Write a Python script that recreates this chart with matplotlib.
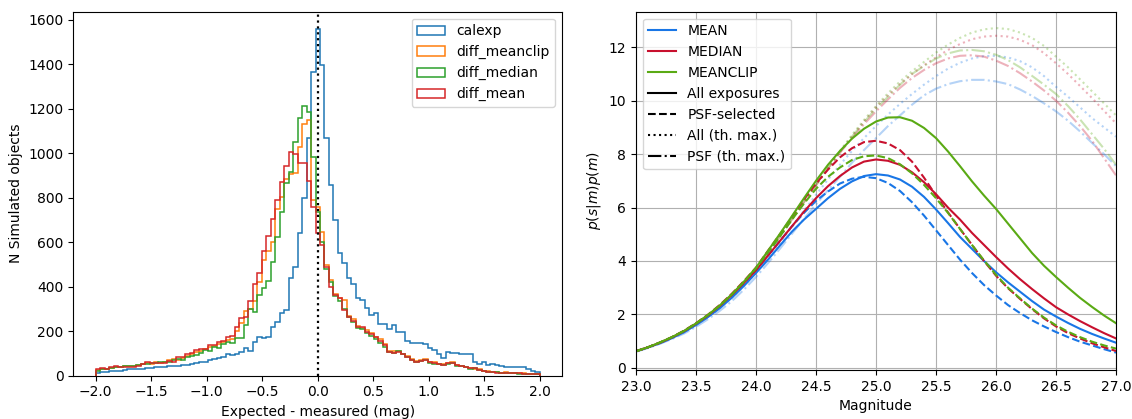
"""Offset histograms and detection-weighted magnitude curves."""

import numpy as np
import matplotlib
matplotlib.use("Agg")
import matplotlib.pyplot as plt
from matplotlib.lines import Line2D

# ---- left panel: histogram of expected - measured (99 bins, -2..2) ----
EDGES = np.linspace(-2.0, 2.0, 100)

calexp = [
    13, 15, 18, 20, 22, 22, 25, 28, 30, 31,
    31, 33, 35, 37, 38, 40, 43, 45, 45, 47,
    47, 52, 55, 60, 62, 70, 76, 80, 85, 95,
    92, 95, 104, 122, 110, 152, 175, 170, 175, 220,
    242, 280, 295, 440, 490, 640, 800, 1070, 1367, 1559,
    1397, 1067, 857, 700, 550, 505, 437, 412, 347, 340,
    302, 272, 283, 232, 232, 208, 228, 198, 198, 157,
    148, 148, 148, 140, 122, 115, 95, 77, 107, 100,
    102, 97, 97, 97, 62, 52, 62, 47, 52, 47,
    45, 40, 40, 40, 38, 38, 30, 20, 15,
]
diff_meanclip = [
    25, 30, 30, 35, 40, 40, 42, 45, 43, 48,
    50, 58, 50, 62, 57, 60, 72, 75, 70, 80,
    90, 95, 105, 112, 120, 128, 132, 140, 150, 158,
    165, 200, 235, 290, 300, 335, 420, 520, 560, 600,
    750, 805, 885, 905, 910, 1030, 1130, 1150, 790, 760,
    647, 497, 430, 365, 350, 340, 270, 255, 225, 215,
    205, 190, 175, 165, 140, 112, 110, 110, 98, 88,
    75, 65, 70, 75, 60, 60, 50, 50, 58, 60,
    48, 45, 40, 35, 30, 28, 22, 20, 18, 15,
    12, 14, 12, 10, 12, 10, 8, 6, 5,
]
diff_median = [
    22, 28, 30, 32, 38, 40, 42, 42, 45, 48,
    52, 50, 55, 58, 60, 62, 60, 68, 75, 72,
    85, 90, 92, 100, 115, 112, 128, 125, 140, 150,
    145, 170, 170, 227, 300, 287, 362, 392, 427, 512,
    625, 737, 865, 914, 1049, 1160, 1214, 1184, 985, 737,
    600, 480, 420, 360, 335, 300, 262, 240, 215, 210,
    190, 178, 165, 148, 130, 105, 100, 112, 95, 85,
    72, 60, 65, 68, 55, 52, 50, 48, 52, 55,
    45, 43, 40, 30, 32, 25, 22, 18, 15, 14,
    12, 12, 10, 10, 8, 8, 6, 6, 5,
]
diff_mean = [
    30, 32, 28, 37, 43, 37, 40, 37, 40, 43,
    52, 62, 55, 58, 55, 55, 67, 62, 82, 82,
    97, 100, 115, 118, 118, 138, 139, 152, 157, 172,
    179, 217, 260, 262, 335, 410, 460, 560, 630, 705,
    790, 870, 943, 1005, 995, 955, 955, 875, 760, 640,
    587, 490, 400, 362, 347, 295, 265, 247, 220, 220,
    197, 187, 172, 157, 137, 107, 103, 107, 97, 85,
    70, 62, 67, 70, 62, 55, 52, 47, 55, 58,
    47, 43, 40, 32, 32, 25, 22, 17, 17, 13,
    12, 12, 10, 10, 10, 8, 8, 6, 5,
]
HIST_SERIES = [
    ("calexp", calexp, "tab:blue"),
    ("diff_meanclip", diff_meanclip, "tab:orange"),
    ("diff_median", diff_median, "tab:green"),
    ("diff_mean", diff_mean, "tab:red"),
]

# ---- right panel: p(s|m)p(m) vs magnitude ----
MAG = np.linspace(23.0, 27.0, 41)

mean_all = [0.62, 0.76, 0.92, 1.11, 1.33, 1.6, 1.9, 2.24, 2.63, 3.07, 3.55,
            4.05, 4.58, 5.1, 5.55, 5.95, 6.35, 6.7, 6.98, 7.18, 7.25,
            7.2, 7.05, 6.78, 6.4, 5.93, 5.42, 4.9, 4.45, 4.0, 3.58,
            3.2, 2.85, 2.5, 2.18, 1.92, 1.68, 1.46, 1.27, 1.1, 0.94]
mean_psf = [0.62, 0.77, 0.94, 1.14, 1.37, 1.65, 1.95, 2.3, 2.7, 3.15, 3.65,
            4.2, 4.75, 5.3, 5.8, 6.25, 6.6, 6.9, 7.08, 7.15, 7.1,
            6.92, 6.62, 6.2, 5.7, 5.15, 4.6, 4.05, 3.55, 3.1, 2.71,
            2.35, 2.05, 1.78, 1.55, 1.34, 1.15, 0.98, 0.84, 0.7, 0.57]
mean_all_th = [0.62, 0.76, 0.92, 1.11, 1.33, 1.6, 1.9, 2.24, 2.63, 3.07, 3.55,
               4.1, 4.68, 5.28, 5.88, 6.48, 7.05, 7.6, 8.12, 8.6, 9.05,
               9.48, 9.88, 10.25, 10.6, 10.92, 11.2, 11.42, 11.58, 11.67, 11.68,
               11.62, 11.48, 11.25, 10.92, 10.52, 10.15, 9.75, 9.35, 9.0, 8.65]
mean_psf_th = [0.6, 0.74, 0.9, 1.08, 1.28, 1.53, 1.82, 2.14, 2.5, 2.93, 3.4,
               3.92, 4.46, 5.02, 5.58, 6.12, 6.65, 7.15, 7.68, 8.15, 8.6,
               9.05, 9.45, 9.85, 10.2, 10.45, 10.62, 10.73, 10.78, 10.78, 10.72,
               10.62, 10.42, 10.18, 9.9, 9.6, 9.25, 8.85, 8.42, 8.0, 7.55]

median_all = [0.62, 0.77, 0.94, 1.14, 1.37, 1.65, 1.96, 2.32, 2.73, 3.18, 3.65,
              4.2, 4.75, 5.3, 5.85, 6.35, 6.8, 7.18, 7.5, 7.72, 7.8,
              7.75, 7.6, 7.32, 6.95, 6.5, 6.0, 5.55, 5.05, 4.6, 4.15,
              3.72, 3.32, 2.95, 2.6, 2.27, 2.0, 1.75, 1.52, 1.3, 1.1]
median_psf = [0.62, 0.77, 0.95, 1.15, 1.39, 1.67, 1.99, 2.36, 2.78, 3.25, 3.75,
              4.38, 5.0, 5.65, 6.3, 6.9, 7.42, 7.88, 8.22, 8.45, 8.5,
              8.4, 8.15, 7.72, 7.12, 6.45, 5.82, 5.2, 4.6, 4.0, 3.45,
              2.98, 2.58, 2.2, 1.85, 1.55, 1.3, 1.1, 0.92, 0.77, 0.63]
median_all_th = [0.62, 0.77, 0.94, 1.14, 1.37, 1.65, 1.96, 2.32, 2.73, 3.18, 3.7,
                 4.3, 4.92, 5.56, 6.2, 6.85, 7.48, 8.08, 8.66, 9.22, 9.75,
                 10.2, 10.62, 11.0, 11.33, 11.62, 11.9, 12.12, 12.3, 12.4, 12.43,
                 12.4, 12.28, 12.08, 11.78, 11.4, 11.0, 10.55, 10.1, 9.62, 9.15]
median_psf_th = [0.62, 0.77, 0.94, 1.14, 1.37, 1.65, 1.96, 2.32, 2.73, 3.18, 3.7,
                 4.3, 4.92, 5.56, 6.2, 6.83, 7.45, 8.05, 8.6, 9.12, 9.6,
                 10.05, 10.48, 10.85, 11.15, 11.4, 11.58, 11.68, 11.7, 11.65, 11.5,
                 11.3, 11.03, 10.72, 10.38, 10.0, 9.55, 9.05, 8.5, 7.85, 7.2]

meanclip_all = [0.62, 0.77, 0.95, 1.15, 1.38, 1.66, 1.98, 2.34, 2.76, 3.23, 3.75,
                4.38, 5.02, 5.68, 6.35, 7.0, 7.6, 8.12, 8.58, 8.95, 9.22,
                9.37, 9.38, 9.25, 8.98, 8.6, 8.1, 7.55, 6.98, 6.45, 5.95,
                5.4, 4.85, 4.3, 3.82, 3.4, 3.0, 2.62, 2.28, 1.96, 1.67]
meanclip_psf = [0.62, 0.77, 0.95, 1.15, 1.38, 1.66, 1.98, 2.34, 2.75, 3.22, 3.72,
                4.32, 4.92, 5.55, 6.15, 6.7, 7.15, 7.5, 7.78, 7.92, 7.95,
                7.85, 7.62, 7.28, 6.85, 6.35, 5.8, 5.2, 4.6, 4.02, 3.48,
                3.0, 2.6, 2.22, 1.88, 1.59, 1.35, 1.15, 0.98, 0.84, 0.72]
meanclip_all_th = [0.62, 0.77, 0.94, 1.14, 1.37, 1.65, 1.96, 2.32, 2.73, 3.18, 3.7,
                   4.3, 4.92, 5.56, 6.2, 6.85, 7.5, 8.12, 8.72, 9.28, 9.8,
                   10.28, 10.72, 11.1, 11.45, 11.8, 12.1, 12.35, 12.55, 12.67, 12.72,
                   12.68, 12.55, 12.35, 12.05, 11.65, 11.25, 10.8, 10.35, 9.9, 9.45]
meanclip_psf_th = [0.62, 0.77, 0.94, 1.14, 1.37, 1.65, 1.96, 2.32, 2.73, 3.18, 3.7,
                   4.3, 4.92, 5.56, 6.2, 6.85, 7.48, 8.08, 8.66, 9.2, 9.7,
                   10.15, 10.6, 11.0, 11.3, 11.58, 11.77, 11.88, 11.9, 11.85, 11.72,
                   11.52, 11.25, 10.93, 10.6, 10.25, 9.8, 9.3, 8.75, 8.2, 7.6]

STAT_COLORS = {"MEAN": "#1976e6", "MEDIAN": "#c8102e", "MEANCLIP": "#5aaa14"}
CURVES = {
    "MEAN": (mean_all, mean_psf, mean_all_th, mean_psf_th),
    "MEDIAN": (median_all, median_psf, median_all_th, median_psf_th),
    "MEANCLIP": (meanclip_all, meanclip_psf, meanclip_all_th, meanclip_psf_th),
}

fig = plt.figure(figsize=(11.32, 4.19), dpi=100)
ax1 = fig.add_axes([0.0649, 0.1038, 0.4316, 0.8682])
ax2 = fig.add_axes([0.5618, 0.1170, 0.4241, 0.8550])

# left histogram (step outlines, weights are the read-off bin counts)
centers = 0.5 * (EDGES[:-1] + EDGES[1:])
for label, counts, color in HIST_SERIES:
    ax1.hist(centers, bins=EDGES, weights=counts, histtype="step",
             color=color, lw=1.1, label=label)
ax1.axvline(0, color="k", ls=":", lw=1.6)
ax1.set_xlim(-2.2, 2.2)
ax1.set_ylim(0, 1637)
ax1.set_xticks(np.arange(-2.0, 2.01, 0.5))
ax1.set_yticks(np.arange(0, 1601, 200))
ax1.set_xlabel("Expected - measured (mag)")
ax1.set_ylabel("N Simulated objects")
ax1.legend(loc="upper right")

# right curves: faint theoretical maxima first, measured curves on top
for name, (c_all, c_psf, c_all_th, c_psf_th) in CURVES.items():
    col = STAT_COLORS[name]
    ax2.plot(MAG, c_all_th, color=col, ls=":", lw=1.5, alpha=0.32)
    ax2.plot(MAG, c_psf_th, color=col, ls="-.", lw=1.5, alpha=0.32)
for name, (c_all, c_psf, c_all_th, c_psf_th) in CURVES.items():
    col = STAT_COLORS[name]
    ax2.plot(MAG, c_all, color=col, ls="-", lw=1.5)
    ax2.plot(MAG, c_psf, color=col, ls="--", lw=1.5)

ax2.set_xlim(23.0, 27.0)
ax2.set_ylim(-0.08, 13.33)
ax2.set_xticks(np.arange(23.0, 27.01, 0.5))
ax2.set_yticks(np.arange(0, 13, 2))
ax2.grid(True)
ax2.set_xlabel("Magnitude")
ax2.set_ylabel("$p(s|m)p(m)$")

handles = [Line2D([], [], color=STAT_COLORS[n], lw=1.5, label=n) for n in CURVES]
handles += [
    Line2D([], [], color="k", ls="-", lw=1.5, label="All exposures"),
    Line2D([], [], color="k", ls="--", lw=1.5, label="PSF-selected"),
    Line2D([], [], color="k", ls=":", lw=1.5, label="All (th. max.)"),
    Line2D([], [], color="k", ls="-.", lw=1.5, label="PSF (th. max.)"),
]
ax2.legend(handles=handles, loc="upper left")

fig.savefig("out.png", dpi=100)
